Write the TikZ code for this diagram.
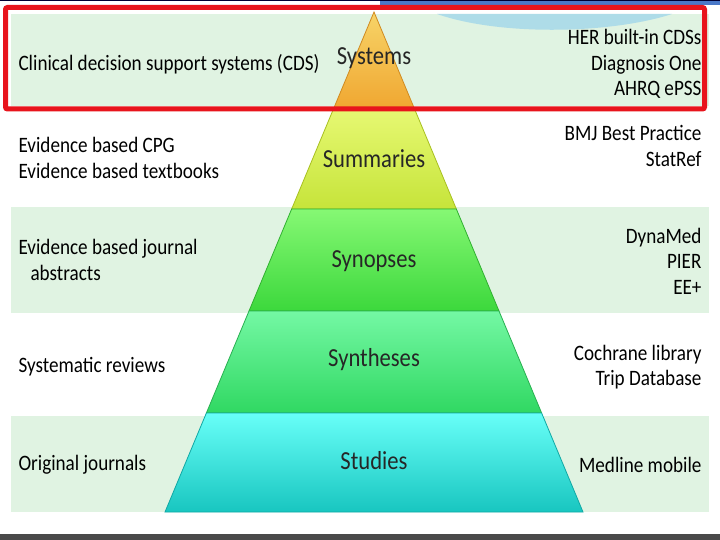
\documentclass[tikz,border=0pt]{standalone}
\usepackage{fontspec}
\setmainfont[FakeStretch=0.87]{Carlito}
\usepackage{tikz}

\definecolor{bandvert}{HTML}{E0F3E2}
\definecolor{rouge}{HTML}{E8141C}
\definecolor{bleu}{HTML}{4A78C8}
\definecolor{bleuclair}{HTML}{AEDCE8}
\definecolor{gris}{HTML}{4A4A4A}

\begin{document}
\begin{tikzpicture}[x=1pt,y=-1pt,
	gauche/.style={anchor=west,align=left,font=\fontsize{22}{25.5}\selectfont},
	droite/.style={anchor=east,align=right,font=\fontsize{22}{25.5}\selectfont},
	niveau/.style={font=\fontsize{26}{28}\selectfont,text=black!85}]
	\useasboundingbox (0,0) rectangle (720,540);
	\fill[white] (0,0) rectangle (720,540);
	% bandes de fond
	\foreach \ya/\yb in {14/106,207/313,416/512}
		\fill[bandvert] (11,\ya) rectangle (709,\yb);
	% bandeau du haut et du bas
	\fill[bleu] (380,0) rectangle (720,5);
	\draw[black!80!blue] (0,0.5) -- (720,0.5);
	\fill[bleuclair] (437,14) .. controls (500,36) and (610,34) .. (672,14) -- cycle;
	\fill[gris] (0,534) rectangle (720,540);
	% pyramide
	\foreach \ya/\yb/\ct/\cb/\cd in {12/110/F7D468/F0A630/D08A20,
			110/209/E6F872/C6E43A/A8C020,
			209/311/86F874/3CD83C/30B030,
			311/413/74F8A4/30D862/28B050,
			413/512/68FFF8/18C6C0/10A8A4}
	{
		\definecolor{haut}{HTML}{\ct}
		\definecolor{bas}{HTML}{\cb}
		\definecolor{bord}{HTML}{\cd}
		\shade[top color=haut,bottom color=bas]
			({374-0.418*(\ya-12)},\ya) -- ({374+0.418*(\ya-12)},\ya)
			-- ({374+0.418*(\yb-12)},\yb) -- ({374-0.418*(\yb-12)},\yb) -- cycle;
		\draw[bord,line width=0.8pt]
			({374-0.418*(\ya-12)},\ya) -- ({374+0.418*(\ya-12)},\ya)
			-- ({374+0.418*(\yb-12)},\yb) -- ({374-0.418*(\yb-12)},\yb) -- cycle;
	}
	% niveaux
	\node (sys) at (374,58) [niveau] {Systems};
	\node (sum) at (374,159) [niveau] {Summaries};
	\node (syn) at (374,261) [niveau] {Synopses};
	\node (synth) at (374,360) [niveau] {Syntheses};
	\node (stu) at (374,461) [niveau] {Studies};
	% textes de gauche
	\node (g1) at (15,64) [gauche] {Clinical decision support systems (CDS)};
	\node (g2) at (15,158) [gauche] {Evidence based CPG\\Evidence based textbooks};
	\node (g3) at (15,260) [gauche] {Evidence based journal\\\hspace{12pt}abstracts};
	\node (g4) at (15,367) [gauche] {Systematic reviews};
	\node (g5) at (15,465) [gauche] {Original journals};
	% textes de droite
	\node (d1) at (705,64) [droite] {HER built-in CDSs\\Diagnosis One\\AHRQ ePSS};
	\node (d2) at (705,146) [droite] {BMJ Best Practice\\StatRef};
	\node (d3) at (705,261) [droite] {DynaMed\\PIER\\EE+};
	\node (d4) at (705,367) [droite] {Cochrane library\\Trip Database};
	\node (d5) at (705,465) [droite] {Medline mobile};
	% cadre rouge
	\draw[rouge,line width=5pt,rounded corners=2pt] (5.5,7.5) rectangle (704.5,109);
\end{tikzpicture}
\end{document}
